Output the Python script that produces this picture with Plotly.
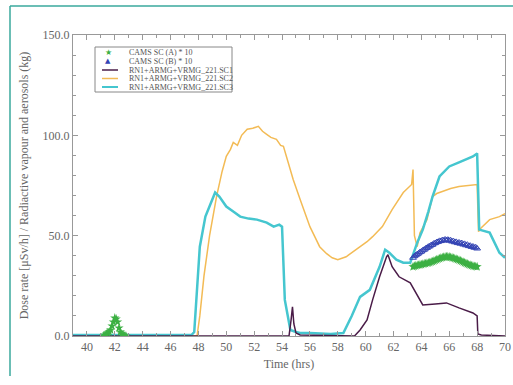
import plotly.graph_objects as go

# ---- data ----
t_sc1 = [39, 54.5, 54.65, 54.75, 54.85, 55.0, 55.3, 59.2, 59.6, 60.1, 60.5, 61.0, 61.5, 61.6, 61.9,
         62.4, 63.2, 63.5, 63.9, 64.1, 65.0, 65.8, 66.7, 67.7, 68.0, 68.05, 68.3, 70]
v_sc1 = [0, 0, 8, 14.5, 6, 1.5, 0.5, 0, 3, 8, 18, 29.5, 39.5, 40.5, 34.5,
         29.5, 26.5, 23, 18, 15.5, 16, 16.5, 14, 11.5, 10, 1, 0.5, 0]

t_sc2 = [39, 47.9, 48.1, 48.4, 48.8, 49.3, 49.7, 50.0, 50.3, 50.5, 50.8, 51.1, 51.5, 51.9, 52.3,
         52.6, 52.9, 53.2, 53.6, 53.9, 54.1, 54.3, 54.8, 55.3, 56.0, 56.7, 57.2, 57.6, 58.0, 58.6,
         59.1, 59.6, 60.1, 60.5, 61.2, 61.9, 62.7, 63.3, 63.4, 63.5, 63.7, 63.9, 64.4, 64.8, 65.1,
         65.5, 66.1, 66.7, 67.3, 67.8, 68.0, 68.1, 68.3, 68.9, 69.6, 70]
v_sc2 = [0, 0, 10, 30, 50, 69.5, 82, 89.5, 93, 96.5, 95, 100, 103, 103.5, 104.5,
         102, 100.5, 99, 98, 95, 94.5, 89.5, 78, 68, 54.5, 44.5, 41, 39, 38, 39.5,
         42, 44.5, 47, 49.5, 54.5, 63, 71.5, 75.5, 83, 50, 44.5, 51.5, 58, 69.5, 71,
         72, 73.5, 74.5, 75, 75.5, 75.5, 52, 54, 58, 59.5, 61]

t_sc3 = [39, 47.5, 47.7, 48.1, 48.5, 48.8, 49.2, 49.5, 50.0, 50.5, 51.0, 51.6, 52.2, 52.9, 53.4,
         53.8, 54.0, 54.2, 54.6, 55.0, 55.3, 56, 57, 57.5, 58.4, 59.0, 59.6, 60.3, 61.0, 61.4,
         61.7, 62.2, 62.7, 63.2, 63.7, 64.1, 64.5, 64.8, 65.3, 66.0, 66.7, 67.2, 67.7, 68.0,
         68.15, 68.9, 69.6, 70]
v_sc3 = [0.5, 0.5, 2, 44.5, 59.5, 64.5, 71.5, 69.5, 64.5, 62, 59.5, 58.5, 58, 56.5, 54.5,
         55.5, 54.5, 18, 3, 2, 1.5, 1.5, 1, 1, 1.5, 10, 19.5, 23, 34.5, 43,
         41.5, 38, 36.5, 36.5, 46.5, 53, 62, 69.5, 79.5, 84.5, 86.5, 88, 89.5, 91,
         53, 51.5, 41.5, 39]

t_camsA = [41.2, 41.3, 41.4, 41.5, 41.6, 41.7, 41.8, 41.9, 42.0, 42.1, 42.2, 42.3, 42.4, 42.5, 42.6, 42.7, 42.8,
           63.4, 63.5, 63.6, 63.7, 63.8, 63.9, 64.0, 64.1, 64.2, 64.3, 64.4, 64.5, 64.6, 64.7, 64.8, 64.9,
           65.0, 65.1, 65.2, 65.3, 65.4, 65.5, 65.6, 65.7, 65.8, 65.9, 66.0, 66.1, 66.2, 66.3, 66.4, 66.5,
           66.6, 66.7, 66.8, 66.9, 67.0, 67.1, 67.2, 67.3, 67.4, 67.5, 67.6, 67.7, 67.8, 67.9, 68.0]
v_camsA = [0, 0.5, 1, 1.5, 2, 3, 5, 7, 9, 8.5, 7, 4, 2, 1, 0.5, 0, 0,
           34.5, 34.8, 35.0, 35.2, 35.3, 35.5, 35.6, 35.8, 36.0, 36.1, 36.3, 36.4, 36.6, 36.9, 37.1, 37.4,
           37.7, 38.0, 38.3, 38.6, 38.9, 39.1, 39.3, 39.4, 39.5, 39.5, 39.4, 39.2, 39.0, 38.8, 38.6, 38.3,
           38.1, 37.8, 37.5, 37.2, 36.8, 36.5, 36.2, 35.9, 35.6, 35.3, 35.1, 34.9, 34.7, 34.6, 34.5]

t_camsB = [63.4, 63.5, 63.6, 63.7, 63.8, 63.9, 64.0, 64.1, 64.2, 64.3, 64.4, 64.5, 64.6, 64.7, 64.8, 64.9,
           65.0, 65.1, 65.2, 65.3, 65.4, 65.5, 65.6, 65.7, 65.8, 65.9, 66.0, 66.1, 66.2, 66.3, 66.4, 66.5,
           66.6, 66.7, 66.8, 66.9, 67.0, 67.1, 67.2, 67.3, 67.4, 67.5, 67.6, 67.7, 67.8, 67.9, 68.0]
v_camsB = [39.0, 39.8, 40.3, 40.8, 41.2, 41.8, 42.1, 42.7, 43.0, 43.6, 43.9, 44.5, 44.7, 45.3, 45.5, 46.1,
           46.3, 46.8, 46.9, 47.4, 47.3, 47.8, 47.6, 48.1, 47.8, 48.0, 47.5, 47.7, 47.1, 47.3, 46.7, 46.9,
           46.3, 46.6, 46.0, 46.3, 45.6, 45.9, 45.2, 45.5, 44.8, 45.0, 44.4, 44.6, 44.0, 44.2, 43.6]

legend_labels = ["CAMS SC (A) * 10", "CAMS SC (B) * 10",
                 "RN1+ARMG+VRMG_221.SC1", "RN1+ARMG+VRMG_221.SC2", "RN1+ARMG+VRMG_221.SC3"]

x_ticks = list(range(40, 71, 2))
y_ticks = [0, 50, 100, 150]
y_ticklabels = ["0.0", "50.0", "100.0", "150.0"]

# ---- styling ----
C_SC1 = "#4a1c48"
C_SC2 = "#f3bb55"
C_SC3 = "#45c6cf"
C_A = "#3cb043"
C_B = "#3444b4"
FONT = "Liberation Serif"
GREY = "#666666"

W, H = 513, 385
L, R, T, B = 73, 8, 35, 49
PW, PH = W - L - R, H - T - B

def px_x(px):
    return (px - L) / PW

def px_y(py):
    return (H - B - py) / PH

fig = go.Figure()
fig.add_trace(go.Scatter(x=t_sc2, y=v_sc2, mode="lines", line=dict(color=C_SC2, width=1.5),
                         name=legend_labels[3], showlegend=False))
fig.add_trace(go.Scatter(x=t_sc3, y=v_sc3, mode="lines", line=dict(color=C_SC3, width=2.5),
                         name=legend_labels[4], showlegend=False))
fig.add_trace(go.Scatter(x=t_sc1, y=v_sc1, mode="lines", line=dict(color=C_SC1, width=1.5),
                         name=legend_labels[2], showlegend=False))
fig.add_trace(go.Scatter(x=t_camsB, y=v_camsB, mode="markers",
                         marker=dict(symbol="triangle-up-open", size=6, color=C_B, line=dict(width=1, color=C_B)),
                         name=legend_labels[1], showlegend=False))
fig.add_trace(go.Scatter(x=t_camsA, y=v_camsA, mode="markers",
                         marker=dict(symbol="star", size=7, color=C_A, line=dict(width=0)),
                         name=legend_labels[0], showlegend=False))

shapes = []
annotations = []
# outer teal frame (left and top edges visible)
TEAL = "#3aa99d"
shapes.append(dict(type="line", xref="paper", yref="paper", x0=px_x(10), x1=px_x(10),
                   y0=px_y(376), y1=px_y(6), line=dict(color=TEAL, width=1.5)))
shapes.append(dict(type="line", xref="paper", yref="paper", x0=px_x(10), x1=px_x(520),
                   y0=px_y(6), y1=px_y(6), line=dict(color=TEAL, width=1.5)))

# legend box
shapes.append(dict(type="rect", xref="paper", yref="paper", x0=px_x(95), x1=px_x(232),
                   y0=px_y(92), y1=px_y(47), line=dict(color="#888888", width=1), fillcolor="white"))
rows = [53, 61.5, 70, 78.5, 87]
sym_colors = [C_A, C_B, C_SC1, C_SC2, C_SC3]
for i, lab in enumerate(legend_labels):
    yy = px_y(rows[i])
    annotations.append(dict(xref="paper", yref="paper", x=px_x(127), y=yy, text=lab,
                            showarrow=False, xanchor="left", yanchor="middle",
                            font=dict(family=FONT, size=8, color="#555555")))
    if i == 0:
        annotations.append(dict(xref="paper", yref="paper", x=px_x(108), y=yy, text="★",
                                showarrow=False, xanchor="center", yanchor="middle",
                                font=dict(family="DejaVu Sans", size=8, color=C_A)))
    elif i == 1:
        annotations.append(dict(xref="paper", yref="paper", x=px_x(108), y=yy, text="▲",
                                showarrow=False, xanchor="center", yanchor="middle",
                                font=dict(family="DejaVu Sans", size=7, color=C_B)))
    else:
        shapes.append(dict(type="line", xref="paper", yref="paper", x0=px_x(102), x1=px_x(118),
                           y0=yy, y1=yy, line=dict(color=sym_colors[i], width=2 if i == 4 else 1.5)))

fig.update_layout(
    width=W, height=H, margin=dict(l=L, r=R, t=T, b=B, autoexpand=False),
    paper_bgcolor="white", plot_bgcolor="white", showlegend=False,
    font=dict(family=FONT, color=GREY, size=12),
    shapes=shapes, annotations=annotations,
)
fig.update_xaxes(range=[39, 70], tickvals=x_ticks, ticks="inside", ticklen=5, tickcolor="#999999",
                 showline=True, linecolor="#999999", linewidth=1, mirror="ticks", showgrid=False,
                 zeroline=False, tickfont=dict(family=FONT, size=12, color=GREY),
                 minor=dict(dtick=1, ticks="inside", ticklen=3, tickcolor="#999999"),
                 title=dict(text="Time (hrs)", font=dict(family=FONT, size=12, color=GREY), standoff=6))
fig.update_yaxes(range=[0, 150], tickvals=y_ticks, ticktext=y_ticklabels, ticks="inside", ticklen=5,
                 tickcolor="#999999", showline=True, linecolor="#999999", linewidth=1, mirror="ticks",
                 showgrid=False, zeroline=False, tickfont=dict(family=FONT, size=12, color=GREY),
                 minor=dict(dtick=10, ticks="inside", ticklen=3, tickcolor="#999999"),
                 title=dict(text="Dose rate [μSv/h] / Radiactive vapour and aerosols (kg)",
                            font=dict(family=FONT, size=12, color=GREY), standoff=11))

fig.write_html("out.html")
